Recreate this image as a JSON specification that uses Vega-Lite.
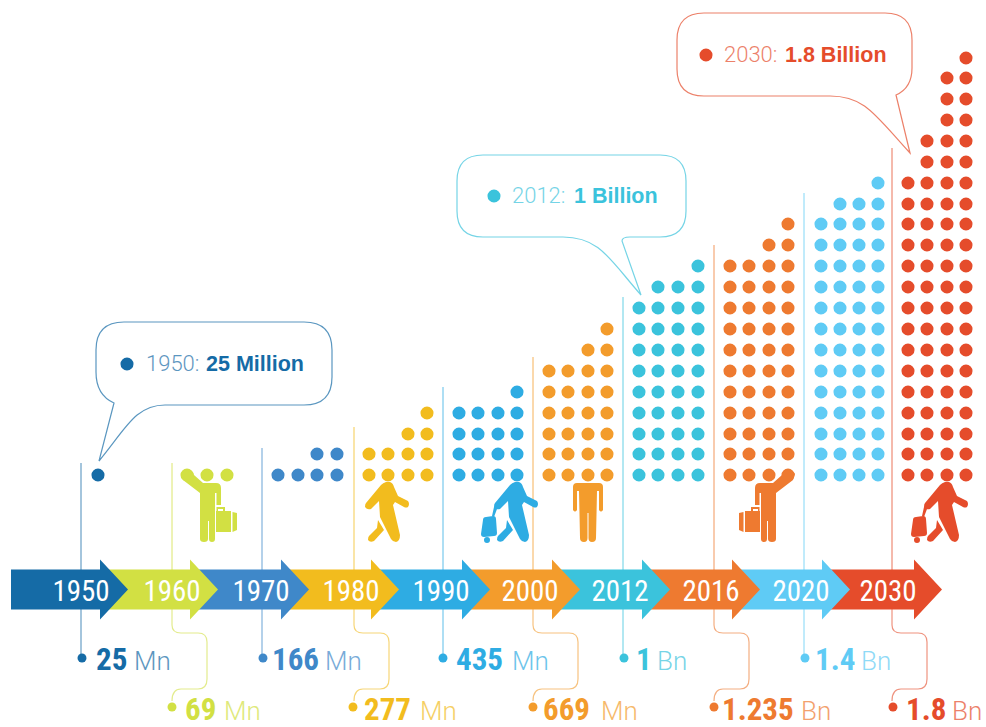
{
"$schema":"https://vega.github.io/schema/vega-lite/v6.json",
"width":986,"height":727,"padding":0,
"autosize":{"type":"fit","contains":"padding"},
"background":"white",
"config":{"view":{"stroke":null},"legend":{"disable":true}},
"datasets":{
"rules":[
{"year":"1950","x":81,"y":463,"y2":658},
{"year":"1960","x":172,"y":463,"y2":609},
{"year":"1970","x":262,"y":448,"y2":658},
{"year":"1980","x":354,"y":427,"y2":609},
{"year":"1990","x":443,"y":387,"y2":658},
{"year":"2000","x":533,"y":357,"y2":609},
{"year":"2012","x":623,"y":297,"y2":658},
{"year":"2016","x":714,"y":245,"y2":609},
{"year":"2020","x":804,"y":193,"y2":658},
{"year":"2030","x":892,"y":148,"y2":609}],
"connectors":[
{"year":"1960","x":172,"y":609,"glyph":"connector"},
{"year":"1980","x":354,"y":609,"glyph":"connector"},
{"year":"2000","x":533,"y":609,"glyph":"connectorWide"},
{"year":"2016","x":714,"y":609,"glyph":"connector"},
{"year":"2030","x":892,"y":609,"glyph":"connector"}],
"arrows":[
{"year":"2030","x":942,"y":589.5,"glyph":"arrow"},
{"year":"2020","x":850,"y":589.5,"glyph":"arrow"},
{"year":"2016","x":760,"y":589.5,"glyph":"arrow"},
{"year":"2012","x":670,"y":589.5,"glyph":"arrow"},
{"year":"2000","x":580,"y":589.5,"glyph":"arrow"},
{"year":"1990","x":490,"y":589.5,"glyph":"arrow"},
{"year":"1980","x":399,"y":589.5,"glyph":"arrow"},
{"year":"1970","x":309,"y":589.5,"glyph":"arrow"},
{"year":"1960","x":218,"y":589.5,"glyph":"arrow"},
{"year":"1950","x":128,"y":589.5,"glyph":"arrow"}],
"yearLabels":[
{"year":"1950","x":81,"y":600.5},{"year":"1960","x":172,"y":600.5},{"year":"1970","x":261,"y":600.5},{"year":"1980","x":351,"y":600.5},{"year":"1990","x":441,"y":600.5},{"year":"2000","x":530,"y":600.5},{"year":"2012","x":620,"y":600.5},{"year":"2016","x":711,"y":600.5},{"year":"2020","x":801,"y":600.5},{"year":"2030","x":888,"y":600.5}],
"endDots":[
{"year":"1950","x":82,"y":658},{"year":"1960","x":172,"y":707},{"year":"1970","x":263,"y":658},{"year":"1980","x":353,"y":707},{"year":"1990","x":443,"y":658},{"year":"2000","x":533,"y":707},{"year":"2012","x":624,"y":658},{"year":"2016","x":714,"y":707},{"year":"2020","x":805,"y":658},{"year":"2030","x":893,"y":707}],
"numbers":[
{"year":"1950","x":96,"y":670,"t":"25"},{"year":"1960","x":185,"y":720,"t":"69"},{"year":"1970","x":272,"y":670,"t":"166"},{"year":"1980","x":364,"y":720,"t":"277"},{"year":"1990","x":456,"y":670,"t":"435"},{"year":"2000","x":543,"y":720,"t":"669"},{"year":"2012","x":636,"y":670,"t":"1"},{"year":"2016","x":722,"y":720,"t":"1.235"},{"year":"2020","x":815,"y":670,"t":"1.4"},{"year":"2030","x":906,"y":720,"t":"1.8"}],
"units":[
{"year":"1950","x":134,"y":670,"t":"Mn"},{"year":"1960","x":224,"y":720,"t":"Mn"},{"year":"1970","x":325,"y":670,"t":"Mn"},{"year":"1980","x":420,"y":720,"t":"Mn"},{"year":"1990","x":512,"y":670,"t":"Mn"},{"year":"2000","x":601,"y":720,"t":"Mn"},{"year":"2012","x":657,"y":670,"t":"Bn"},{"year":"2016","x":801,"y":720,"t":"Bn"},{"year":"2020","x":861,"y":670,"t":"Bn"},{"year":"2030","x":952,"y":720,"t":"Bn"}],
"bubbles":[
{"year":"1950","x":99,"y":461,"glyph":"b1950"},
{"year":"2012","x":641,"y":295,"glyph":"b2012"},
{"year":"2030","x":910,"y":153,"glyph":"b2030"}],
"bubbleDots":[{"year":"1950","x":127,"y":364},{"year":"2012","x":494,"y":196},{"year":"2030","x":706,"y":55}],
"bubbleYears":[{"year":"1950","x":146,"y":371,"t":"1950:"},{"year":"2012","x":512,"y":203,"t":"2012:"},{"year":"2030","x":724,"y":62,"t":"2030:"}],
"bubbleValues":[{"year":"1950","x":206,"y":371,"t":"25 Million"},{"year":"2012","x":574,"y":203,"t":"1 Billion"},{"year":"2030","x":785,"y":62,"t":"1.8 Billion"}],
"figures":[
{"year":"1960","x":207,"y":475,"glyph":"waveRight"},
{"year":"1980","x":388,"y":475,"glyph":"walk"},
{"year":"1990","x":517,"y":475,"glyph":"walkBag"},
{"year":"2000","x":588,"y":475,"glyph":"stand"},
{"year":"2016","x":769,"y":475,"glyph":"waveLeft"},
{"year":"2030","x":947,"y":475,"glyph":"walkBag"}],
"dots":[
{"year":"1950","x":98,"y":475},
{"year":"1960","x":187,"y":475},{"year":"1960","x":207,"y":475},{"year":"1960","x":227,"y":475},
{"year":"1970","x":278,"y":475},{"year":"1970","x":298,"y":475},{"year":"1970","x":317,"y":475},{"year":"1970","x":337,"y":475},
{"year":"1970","x":317,"y":454},{"year":"1970","x":337,"y":454},
{"year":"1980","x":369,"y":475},{"year":"1980","x":388,"y":475},{"year":"1980","x":408,"y":475},{"year":"1980","x":427,"y":475},
{"year":"1980","x":369,"y":454},{"year":"1980","x":388,"y":454},{"year":"1980","x":408,"y":454},{"year":"1980","x":427,"y":454},
{"year":"1980","x":408,"y":434},{"year":"1980","x":427,"y":434},
{"year":"1980","x":427,"y":413},
{"year":"1990","x":459,"y":475},{"year":"1990","x":478,"y":475},{"year":"1990","x":498,"y":475},{"year":"1990","x":517,"y":475},
{"year":"1990","x":459,"y":454},{"year":"1990","x":478,"y":454},{"year":"1990","x":498,"y":454},{"year":"1990","x":517,"y":454},
{"year":"1990","x":459,"y":434},{"year":"1990","x":478,"y":434},{"year":"1990","x":498,"y":434},{"year":"1990","x":517,"y":434},
{"year":"1990","x":459,"y":413},{"year":"1990","x":478,"y":413},{"year":"1990","x":498,"y":413},{"year":"1990","x":517,"y":413},
{"year":"1990","x":517,"y":392},
{"year":"2000","x":549,"y":475},{"year":"2000","x":568,"y":475},{"year":"2000","x":588,"y":475},{"year":"2000","x":607,"y":475},
{"year":"2000","x":549,"y":454},{"year":"2000","x":568,"y":454},{"year":"2000","x":588,"y":454},{"year":"2000","x":607,"y":454},
{"year":"2000","x":549,"y":434},{"year":"2000","x":568,"y":434},{"year":"2000","x":588,"y":434},{"year":"2000","x":607,"y":434},
{"year":"2000","x":549,"y":413},{"year":"2000","x":568,"y":413},{"year":"2000","x":588,"y":413},{"year":"2000","x":607,"y":413},
{"year":"2000","x":549,"y":392},{"year":"2000","x":568,"y":392},{"year":"2000","x":588,"y":392},{"year":"2000","x":607,"y":392},
{"year":"2000","x":549,"y":371},{"year":"2000","x":568,"y":371},{"year":"2000","x":588,"y":371},{"year":"2000","x":607,"y":371},
{"year":"2000","x":588,"y":350},{"year":"2000","x":607,"y":350},
{"year":"2000","x":607,"y":329},
{"year":"2012","x":639,"y":475},{"year":"2012","x":658,"y":475},{"year":"2012","x":678,"y":475},{"year":"2012","x":698,"y":475},
{"year":"2012","x":639,"y":454},{"year":"2012","x":658,"y":454},{"year":"2012","x":678,"y":454},{"year":"2012","x":698,"y":454},
{"year":"2012","x":639,"y":434},{"year":"2012","x":658,"y":434},{"year":"2012","x":678,"y":434},{"year":"2012","x":698,"y":434},
{"year":"2012","x":639,"y":413},{"year":"2012","x":658,"y":413},{"year":"2012","x":678,"y":413},{"year":"2012","x":698,"y":413},
{"year":"2012","x":639,"y":392},{"year":"2012","x":658,"y":392},{"year":"2012","x":678,"y":392},{"year":"2012","x":698,"y":392},
{"year":"2012","x":639,"y":371},{"year":"2012","x":658,"y":371},{"year":"2012","x":678,"y":371},{"year":"2012","x":698,"y":371},
{"year":"2012","x":639,"y":350},{"year":"2012","x":658,"y":350},{"year":"2012","x":678,"y":350},{"year":"2012","x":698,"y":350},
{"year":"2012","x":639,"y":329},{"year":"2012","x":658,"y":329},{"year":"2012","x":678,"y":329},{"year":"2012","x":698,"y":329},
{"year":"2012","x":639,"y":308},{"year":"2012","x":658,"y":308},{"year":"2012","x":678,"y":308},{"year":"2012","x":698,"y":308},
{"year":"2012","x":658,"y":287},{"year":"2012","x":678,"y":287},{"year":"2012","x":698,"y":287},
{"year":"2012","x":698,"y":266},
{"year":"2016","x":730,"y":475},{"year":"2016","x":749,"y":475},{"year":"2016","x":769,"y":475},{"year":"2016","x":788,"y":475},
{"year":"2016","x":730,"y":454},{"year":"2016","x":749,"y":454},{"year":"2016","x":769,"y":454},{"year":"2016","x":788,"y":454},
{"year":"2016","x":730,"y":434},{"year":"2016","x":749,"y":434},{"year":"2016","x":769,"y":434},{"year":"2016","x":788,"y":434},
{"year":"2016","x":730,"y":413},{"year":"2016","x":749,"y":413},{"year":"2016","x":769,"y":413},{"year":"2016","x":788,"y":413},
{"year":"2016","x":730,"y":392},{"year":"2016","x":749,"y":392},{"year":"2016","x":769,"y":392},{"year":"2016","x":788,"y":392},
{"year":"2016","x":730,"y":371},{"year":"2016","x":749,"y":371},{"year":"2016","x":769,"y":371},{"year":"2016","x":788,"y":371},
{"year":"2016","x":730,"y":350},{"year":"2016","x":749,"y":350},{"year":"2016","x":769,"y":350},{"year":"2016","x":788,"y":350},
{"year":"2016","x":730,"y":329},{"year":"2016","x":749,"y":329},{"year":"2016","x":769,"y":329},{"year":"2016","x":788,"y":329},
{"year":"2016","x":730,"y":308},{"year":"2016","x":749,"y":308},{"year":"2016","x":769,"y":308},{"year":"2016","x":788,"y":308},
{"year":"2016","x":730,"y":287},{"year":"2016","x":749,"y":287},{"year":"2016","x":769,"y":287},{"year":"2016","x":788,"y":287},
{"year":"2016","x":730,"y":266},{"year":"2016","x":749,"y":266},{"year":"2016","x":769,"y":266},{"year":"2016","x":788,"y":266},
{"year":"2016","x":769,"y":245},{"year":"2016","x":788,"y":245},
{"year":"2016","x":788,"y":224},
{"year":"2020","x":821,"y":475},{"year":"2020","x":840,"y":475},{"year":"2020","x":859,"y":475},{"year":"2020","x":878,"y":475},
{"year":"2020","x":821,"y":454},{"year":"2020","x":840,"y":454},{"year":"2020","x":859,"y":454},{"year":"2020","x":878,"y":454},
{"year":"2020","x":821,"y":434},{"year":"2020","x":840,"y":434},{"year":"2020","x":859,"y":434},{"year":"2020","x":878,"y":434},
{"year":"2020","x":821,"y":413},{"year":"2020","x":840,"y":413},{"year":"2020","x":859,"y":413},{"year":"2020","x":878,"y":413},
{"year":"2020","x":821,"y":392},{"year":"2020","x":840,"y":392},{"year":"2020","x":859,"y":392},{"year":"2020","x":878,"y":392},
{"year":"2020","x":821,"y":371},{"year":"2020","x":840,"y":371},{"year":"2020","x":859,"y":371},{"year":"2020","x":878,"y":371},
{"year":"2020","x":821,"y":350},{"year":"2020","x":840,"y":350},{"year":"2020","x":859,"y":350},{"year":"2020","x":878,"y":350},
{"year":"2020","x":821,"y":329},{"year":"2020","x":840,"y":329},{"year":"2020","x":859,"y":329},{"year":"2020","x":878,"y":329},
{"year":"2020","x":821,"y":308},{"year":"2020","x":840,"y":308},{"year":"2020","x":859,"y":308},{"year":"2020","x":878,"y":308},
{"year":"2020","x":821,"y":287},{"year":"2020","x":840,"y":287},{"year":"2020","x":859,"y":287},{"year":"2020","x":878,"y":287},
{"year":"2020","x":821,"y":266},{"year":"2020","x":840,"y":266},{"year":"2020","x":859,"y":266},{"year":"2020","x":878,"y":266},
{"year":"2020","x":821,"y":245},{"year":"2020","x":840,"y":245},{"year":"2020","x":859,"y":245},{"year":"2020","x":878,"y":245},
{"year":"2020","x":821,"y":224},{"year":"2020","x":840,"y":224},{"year":"2020","x":859,"y":224},{"year":"2020","x":878,"y":224},
{"year":"2020","x":840,"y":204},{"year":"2020","x":859,"y":204},{"year":"2020","x":878,"y":204},
{"year":"2020","x":878,"y":183},
{"year":"2030","x":908,"y":475},{"year":"2030","x":927,"y":475},{"year":"2030","x":947,"y":475},{"year":"2030","x":966,"y":475},
{"year":"2030","x":908,"y":454},{"year":"2030","x":927,"y":454},{"year":"2030","x":947,"y":454},{"year":"2030","x":966,"y":454},
{"year":"2030","x":908,"y":434},{"year":"2030","x":927,"y":434},{"year":"2030","x":947,"y":434},{"year":"2030","x":966,"y":434},
{"year":"2030","x":908,"y":413},{"year":"2030","x":927,"y":413},{"year":"2030","x":947,"y":413},{"year":"2030","x":966,"y":413},
{"year":"2030","x":908,"y":392},{"year":"2030","x":927,"y":392},{"year":"2030","x":947,"y":392},{"year":"2030","x":966,"y":392},
{"year":"2030","x":908,"y":371},{"year":"2030","x":927,"y":371},{"year":"2030","x":947,"y":371},{"year":"2030","x":966,"y":371},
{"year":"2030","x":908,"y":350},{"year":"2030","x":927,"y":350},{"year":"2030","x":947,"y":350},{"year":"2030","x":966,"y":350},
{"year":"2030","x":908,"y":329},{"year":"2030","x":927,"y":329},{"year":"2030","x":947,"y":329},{"year":"2030","x":966,"y":329},
{"year":"2030","x":908,"y":308},{"year":"2030","x":927,"y":308},{"year":"2030","x":947,"y":308},{"year":"2030","x":966,"y":308},
{"year":"2030","x":908,"y":287},{"year":"2030","x":927,"y":287},{"year":"2030","x":947,"y":287},{"year":"2030","x":966,"y":287},
{"year":"2030","x":908,"y":266},{"year":"2030","x":927,"y":266},{"year":"2030","x":947,"y":266},{"year":"2030","x":966,"y":266},
{"year":"2030","x":908,"y":245},{"year":"2030","x":927,"y":245},{"year":"2030","x":947,"y":245},{"year":"2030","x":966,"y":245},
{"year":"2030","x":908,"y":224},{"year":"2030","x":927,"y":224},{"year":"2030","x":947,"y":224},{"year":"2030","x":966,"y":224},
{"year":"2030","x":908,"y":204},{"year":"2030","x":927,"y":204},{"year":"2030","x":947,"y":204},{"year":"2030","x":966,"y":204},
{"year":"2030","x":908,"y":183},{"year":"2030","x":927,"y":183},{"year":"2030","x":947,"y":183},{"year":"2030","x":966,"y":183},
{"year":"2030","x":927,"y":162},{"year":"2030","x":947,"y":162},{"year":"2030","x":966,"y":162},
{"year":"2030","x":927,"y":141},{"year":"2030","x":947,"y":141},{"year":"2030","x":966,"y":141},
{"year":"2030","x":947,"y":120},{"year":"2030","x":966,"y":120},
{"year":"2030","x":947,"y":99},{"year":"2030","x":966,"y":99},
{"year":"2030","x":947,"y":78},{"year":"2030","x":966,"y":78},
{"year":"2030","x":966,"y":58}]
},
"encoding":{
"x":{"field":"x","type":"quantitative","axis":null,"scale":{"domain":[0,986],"range":[0,986],"nice":false,"zero":false}},
"y":{"field":"y","type":"quantitative","axis":null,"scale":{"domain":[0,727],"range":[0,727],"nice":false,"zero":false}},
"color":{"field":"year","type":"nominal","legend":null,"scale":{"domain":["1950","1960","1970","1980","1990","2000","2012","2016","2020","2030"],"range":["#156BA6","#D2E043","#3F88C9","#F2BC1E","#2EACE3","#F39C2C","#3BC3DC","#EE7A30","#5FCBF5","#E54C2B"]}}
},
"resolve":{"scale":{"shape":"independent"}},
"layer":[
{"data":{"name":"rules"},"mark":{"type":"rule","strokeWidth":1.3,"opacity":0.6},"encoding":{"y2":{"field":"y2"}}},
{"data":{"name":"connectors"},"mark":{"type":"point","filled":false,"size":4,"strokeWidth":1.2,"opacity":0.6},"encoding":{"shape":{"field":"glyph","type":"nominal","legend":null,"scale":{"domain":["connector","connectorWide"],"range":["M0 0 L0 16 Q0 24 9 24 L26 24 Q35 24 35 33 L35 70 Q35 80 26 80 L9 80 Q0 80 0 92","M0 0 L0 16 Q0 24 9 24 L36 24 Q45 24 45 33 L45 70 Q45 80 36 80 L9 80 Q0 80 0 92"]}}}},
{"data":{"name":"arrows"},"mark":{"type":"point","filled":true,"size":4,"opacity":1,"strokeWidth":0},"encoding":{"shape":{"field":"glyph","type":"nominal","legend":null,"scale":{"domain":["arrow"],"range":["M0 0 L-28 -30 L-28 -20 L-117 -20 L-117 20 L-28 20 L-28 30 Z"]}}}},
{"data":{"name":"yearLabels"},"mark":{"type":"text","align":"center","baseline":"alphabetic","font":"Roboto Condensed, DejaVu Sans Condensed, Liberation Sans","fontSize":29,"fontWeight":"normal"},"encoding":{"text":{"field":"year"},"color":{"value":"white"}}},
{"data":{"name":"dots"},"mark":{"type":"point","shape":"circle","filled":true,"size":170,"opacity":1,"strokeWidth":0}},
{"data":{"name":"figures"},"mark":{"type":"point","filled":true,"size":4,"opacity":1,"strokeWidth":0},"encoding":{"shape":{"field":"glyph","type":"nominal","legend":null,"scale":{"domain":["waveRight","waveLeft","walk","walkBag","stand"],"range":[
"M-26 -1 Q-24 -5 -19 -5 Q-14 -5 -13 0 L-4 8 L9 8 Q14 8 14 13 L14 30 L9.5 30 L9.5 18 L8 18 L8 64 Q8 67 5 67 Q2 67 2 64 L2 46 L1 46 L1 64 Q1 67 -3 67 Q-7 67 -7 64 L-7 18 L-24 5 Z M9 36 L24 36 L24 57 L9 57 Z M25.5 37 L30 38 L30 55 L25.5 57 Z M9.5 32 L18 32 L18 36 L16 36 L16 34 L11 34 L11 36 L9.5 36 Z",
"M26 -1 Q24 -5 19 -5 Q14 -5 13 0 L4 8 L-9 8 Q-14 8 -14 13 L-14 30 L-9.5 30 L-9.5 18 L-8 18 L-8 64 Q-8 67 -5 67 Q-2 67 -2 64 L-2 46 L-1 46 L-1 64 Q-1 67 3 67 Q7 67 7 64 L7 18 L24 5 Z M-9 36 L-24 36 L-24 57 L-9 57 Z M-25.5 37 L-30 38 L-30 55 L-25.5 57 Z M-9.5 32 L-18 32 L-18 36 L-16 36 L-16 34 L-11 34 L-11 36 L-9.5 36 Z",
"M-2 7 L2 7 Q5 8 6 12 L10 21 L20 26 Q22 29 20 32 Q18 33 16 32 L7 27 L5 30 L12 60 Q12 66 8 67 Q5 67 3 64 L-8 42 L-9 26 L-17 34 Q-21 35 -23 32 Q-23 29 -22 28 L-7 10 Q-5 8 -2 7 Z M-10 45 L-4 55 L-14 66 Q-18 68 -20 65 Q-20 62 -19 61 L-11 53 Z",
"M-2 7 L2 7 Q5 8 6 12 L10 21 L20 26 Q22 29 20 32 Q18 33 16 32 L7 27 L5 30 L12 60 Q12 66 8 67 Q5 67 3 64 L-8 42 L-9 26 L-17 34 Q-21 35 -23 32 Q-23 29 -22 28 L-7 10 Q-5 8 -2 7 Z M-10 45 L-4 55 L-14 66 Q-18 68 -20 65 Q-20 62 -19 61 L-11 53 Z M-31 42 L-24 41 Q-21 41 -21 44 L-20 58 Q-20 61 -23 61 L-33 62 Q-36 62 -36 59 L-34 45 Q-34 42 -31 42 Z M-23 32 L-20 34 L-23 42 L-25 41 Z M-33 65 Q-33 62 -30 62 Q-27 62 -27 65 Q-27 68 -30 68 Q-33 68 -33 65 Z",
"M-11 8 L11 8 Q15 8 15 12 L15 35 Q13 38 11 35 L11 16 L9 16 L8 63 Q8 67 4 67 Q0.5 67 0.5 63 L0.5 38 L-0.5 38 L-0.5 63 Q-0.5 67 -4 67 Q-8 67 -8 63 L-9 16 L-11 16 L-11 35 Q-13 38 -15 35 L-15 12 Q-15 8 -11 8 Z"]}}}},
{"data":{"name":"endDots"},"mark":{"type":"point","shape":"circle","filled":true,"size":80,"opacity":1,"strokeWidth":0}},
{"data":{"name":"numbers"},"mark":{"type":"text","align":"left","baseline":"alphabetic","font":"Roboto Condensed, DejaVu Sans Condensed, Liberation Sans","fontWeight":"bold","fontSize":31},"encoding":{"text":{"field":"t"}}},
{"data":{"name":"units"},"mark":{"type":"text","align":"left","baseline":"alphabetic","font":"Roboto","fontWeight":300,"fontSize":26,"opacity":0.7},"encoding":{"text":{"field":"t"}}},
{"data":{"name":"bubbles"},"mark":{"type":"point","filled":false,"size":4,"strokeWidth":1.2,"opacity":0.7},"encoding":{"shape":{"field":"glyph","type":"nominal","legend":null,"scale":{"domain":["b1950","b2012","b2030"],"range":[
"M0 0 L15 -58 Q-3 -66 -3 -89 L-3 -111 Q-3 -139 25 -139 L205 -139 Q233 -139 233 -111 L233 -84 Q233 -56 205 -56 L66 -56 C36 -56 26 -31 0 0 Z",
"M0 0 L-19 -54 Q-19 -58 -11 -58 L19 -58 Q45 -58 45 -84 L45 -114 Q45 -140 19 -140 L-158 -140 Q-184 -140 -184 -114 L-184 -84 Q-184 -58 -158 -58 L-78 -58 C-41 -58 -31 -35 0 0 Z",
"M0 0 L-14 -58 Q2 -65 2 -85 L2 -113 Q2 -140 -25 -140 L-206 -140 Q-233 -140 -233 -113 L-233 -84 Q-233 -57 -206 -57 L-80 -57 C-45 -57 -35 -38 0 0 Z"]}}}},
{"data":{"name":"bubbleDots"},"mark":{"type":"point","shape":"circle","filled":true,"size":170,"opacity":1,"strokeWidth":0}},
{"data":{"name":"bubbleYears"},"mark":{"type":"text","align":"left","baseline":"alphabetic","font":"Roboto","fontWeight":300,"fontSize":22,"opacity":0.7},"encoding":{"text":{"field":"t"}}},
{"data":{"name":"bubbleValues"},"mark":{"type":"text","align":"left","baseline":"alphabetic","font":"Liberation Sans","fontWeight":"bold","fontSize":21.5},"encoding":{"text":{"field":"t"}}}
]
}
